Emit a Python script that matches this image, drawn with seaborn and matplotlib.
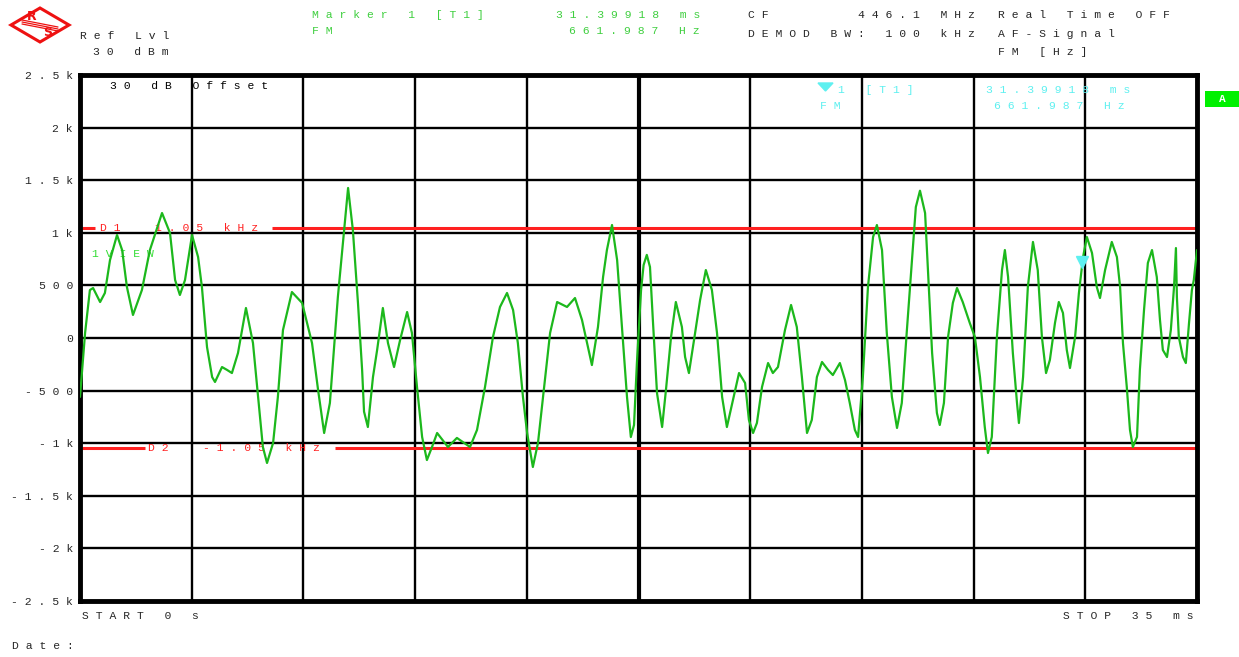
import matplotlib
matplotlib.use("Agg")
import matplotlib.pyplot as plt
import matplotlib.patches as mpatches
import seaborn as sns
import pandas as pd

# ---------------- data ----------------
time_ms = [0.00, 0.16, 0.31, 0.41, 0.63, 0.78, 0.94, 1.16, 1.32, 1.47, 1.66, 1.94, 2.19, 2.57, 2.82,
           2.98, 3.13, 3.29, 3.51, 3.70, 3.82, 3.98, 4.14, 4.23, 4.45, 4.61, 4.76, 4.95, 5.20, 5.42,
           5.58, 5.73, 5.86, 6.05, 6.20, 6.36, 6.64, 6.96, 7.27, 7.46, 7.65, 7.83, 8.08, 8.40, 8.55,
           8.71, 8.84, 8.90, 9.02, 9.18, 9.31, 9.49, 9.65, 9.84, 10.03, 10.25, 10.40, 10.56, 10.72,
           10.87, 11.03, 11.19, 11.53, 11.81, 12.22, 12.44, 12.69, 12.94, 13.16, 13.38, 13.57, 13.72,
           13.88, 14.01, 14.19, 14.35, 14.51, 14.73, 14.95, 15.26, 15.51, 15.73, 15.89, 16.04, 16.23,
           16.39, 16.51, 16.67, 16.83, 16.98, 17.14, 17.26, 17.36, 17.45, 17.58, 17.66, 17.76, 17.86,
           17.95, 18.08, 18.24, 18.36, 18.52, 18.67, 18.86, 18.96, 19.08, 19.24, 19.43, 19.61, 19.80,
           19.96, 20.12, 20.27, 20.46, 20.65, 20.84, 20.96, 21.09, 21.21, 21.37, 21.56, 21.71, 21.87,
           22.09, 22.28, 22.46, 22.62, 22.78, 22.93, 23.09, 23.25, 23.44, 23.59, 23.81, 23.97, 24.12,
           24.28, 24.38, 24.53, 24.69, 24.85, 24.97, 25.13, 25.28, 25.44, 25.60, 25.75, 25.91, 26.07,
           26.19, 26.32, 26.48, 26.57, 26.70, 26.85, 26.94, 27.07, 27.20, 27.35, 27.48, 27.66, 27.88,
           28.04, 28.20, 28.35, 28.45, 28.57, 28.73, 28.89, 28.98, 29.08, 29.23, 29.36, 29.42, 29.55,
           29.70, 29.86, 30.01, 30.14, 30.27, 30.39, 30.55, 30.67, 30.80, 30.92, 31.02, 31.18, 31.30,
           31.43, 31.55, 31.71, 31.86, 31.96, 32.12, 32.33, 32.49, 32.59, 32.68, 32.80, 32.90, 32.99,
           33.12, 33.21, 33.34, 33.46, 33.59, 33.74, 33.84, 33.93, 34.06, 34.18, 34.28, 34.34, 34.37,
           34.43, 34.56, 34.65, 34.75, 34.84, 34.90, 35.00]
fm_hz = [-560, 50, 456, 475, 342, 428, 741, 979, 836, 485, 219, 456, 836, 1188, 998,
         551, 409, 551, 979, 770, 485, -86, -371, -418, -276, -304, -333, -143, 285, -48,
         -561, -1036, -1188, -998, -561, 76, 437, 333, -48, -494, -903, -618, 390, 1426, 1027,
         333, -304, -700, -846, -371, -114, 285, -48, -276, -19, 247, 48, -466, -941,
         -1160, -1036, -903, -1036, -950, -1036, -874, -466, 10, 295, 428, 266, -48,
         -561, -903, -1226, -998, -561, 48, 342, 295, 380, 171, -48, -257, 105,
         580, 836, 1074, 741, 105, -561, -941, -827, -238, 456, 694, 790, 675,
         171, -523, -846, -494, 10, 342, 105, -181, -333, -19, 361, 646, 456,
         48, -561, -846, -589, -333, -428, -779, -903, -808, -466, -238, -333, -276,
         76, 314, 105, -371, -903, -779, -371, -228, -304, -352, -238, -399, -618,
         -874, -941, -371, 485, 960, 1074, 836, 48, -561, -855, -618, 76, 741,
         1245, 1400, 1188, 646, -143, -713, -827, -618, 10, 333, 475, 342, 143,
         10, -371, -846, -1093, -941, 10, 646, 836, 580, -143, -618, -808, -371,
         485, 913, 646, 10, -333, -209, 143, 342, 238, -114, -285, 10, 428,
         770, 960, 808, 485, 380, 646, 913, 770, 485, -48, -466, -874, -1036,
         -941, -304, 266, 713, 836, 580, 171, -114, -181, 76, 485, 855, 390,
         10, -181, -238, 143, 456, 551, 836]

y_ticks = [2500, 2000, 1500, 1000, 500, 0, -500, -1000, -1500, -2000, -2500]
y_tick_labels = ["2.5k", "2k", "1.5k", "1k", "500", "0", "-500", "-1k", "-1.5k", "-2k", "-2.5k"]
x_ticks = [0, 3.5, 7, 10.5, 14, 17.5, 21, 24.5, 28, 31.5, 35]
display_lines = {"D1": 1050, "D2": -1050}
marker_time_ms = 31.39918
marker_value_hz = 661.987

# ---------------- style ----------------
sns.set_style("white")
plt.rcParams["font.family"] = ["Liberation Mono", "DejaVu Sans Mono"]

W, H = 1239, 657
fig = plt.figure(figsize=(W / 100, H / 100), dpi=100)
fig.patch.set_facecolor("white")
ax = fig.add_axes([80 / W, 1 - 601 / H, 1117 / W, 526 / H])


def sp(s):
    return " ".join(s)


def fx(px):
    return px / W


def fy(py):
    return 1 - py / H


FS = 8.2
GREEN_TXT = "#3fcf3f"
CYAN = "#5ef0f0"
RED = "#ff2020"
TRACE = "#1cb81c"

df = pd.DataFrame({"t": time_ms, "v": fm_hz})

ax.set_xlim(0, 35)
ax.set_ylim(-2500, 2500)

# grid
for xt in x_ticks[1:-1]:
    ax.axvline(xt, color="black", lw=3.0 if xt == 17.5 else 1.7, zorder=1)
for yt in y_ticks[1:-1]:
    ax.axhline(yt, color="black", lw=1.7, zorder=1)

# display lines D1 / D2
ax.hlines(display_lines["D1"], 0.05, 0.47, color=RED, lw=2.2, zorder=2)
ax.hlines(display_lines["D1"], 6.02, 35, color=RED, lw=2.2, zorder=2)
ax.hlines(display_lines["D2"], 0.05, 2.04, color=RED, lw=2.2, zorder=2)
ax.hlines(display_lines["D2"], 7.99, 35, color=RED, lw=2.2, zorder=2)
ax.text(0.63, display_lines["D1"], sp("D1  1.05 kHz"), color=RED, fontsize=FS,
        va="center", ha="left", zorder=2)
ax.text(2.13, display_lines["D2"], sp("D2  -1.05 kHz"), color=RED, fontsize=FS,
        va="center", ha="left", zorder=2)

# trace
sns.lineplot(data=df, x="t", y="v", ax=ax, color=TRACE, lw=1.6, sort=False,
             estimator=None, zorder=3)

# marker
ax.plot([marker_time_ms], [marker_value_hz + 60], marker="v", color=CYAN, ms=9,
        mec=CYAN, zorder=4)

ax.text(0.38, 800, sp("1VIEW"), color="#33dd33", fontsize=FS, va="center", ha="left", zorder=2)
ax.text(0.95, 2400, sp("30 dB Offset"), color="black", fontsize=FS, va="center", ha="left")

ax.set_xticks(x_ticks)
ax.set_xticklabels([])
ax.set_yticks(y_ticks)
ax.set_yticklabels([sp(s) for s in y_tick_labels], fontsize=FS)
ax.tick_params(axis="both", length=0, pad=5)
ax.set_xlabel("")
ax.set_ylabel("")
for s in ax.spines.values():
    s.set_visible(True)
    s.set_color("black")
    s.set_linewidth(3.5)

# header texts
fig.text(fx(80), fy(36), sp("Ref Lvl"), fontsize=FS, va="center", ha="left")
fig.text(fx(93), fy(52), sp("30 dBm"), fontsize=FS, va="center", ha="left")
fig.text(fx(312), fy(15), sp("Marker 1 [T1]"), fontsize=FS, color=GREEN_TXT, va="center")
fig.text(fx(312), fy(31), sp("FM"), fontsize=FS, color=GREEN_TXT, va="center")
fig.text(fx(700), fy(15), sp("31.39918 ms"), fontsize=FS, color=GREEN_TXT, va="center", ha="right")
fig.text(fx(700), fy(31), sp("661.987 Hz"), fontsize=FS, color=GREEN_TXT, va="center", ha="right")
fig.text(fx(748), fy(15), sp("CF"), fontsize=FS, va="center")
fig.text(fx(975), fy(15), sp("446.1 MHz"), fontsize=FS, va="center", ha="right")
fig.text(fx(998), fy(15), sp("Real Time OFF"), fontsize=FS, va="center")
fig.text(fx(748), fy(34), sp("DEMOD BW: 100 kHz"), fontsize=FS, va="center")
fig.text(fx(998), fy(34), sp("AF-Signal"), fontsize=FS, va="center")
fig.text(fx(998), fy(52), sp("FM [Hz]"), fontsize=FS, va="center")

# cyan marker info in the diagram
fig.patches.append(mpatches.Polygon([[fx(818), fy(83)], [fx(833), fy(83)], [fx(825.5), fy(91)]],
                                    closed=True, color=CYAN, transform=fig.transFigure, zorder=5))
fig.text(fx(838), fy(90), sp("1 [T1]"), fontsize=FS, color=CYAN, va="center")
fig.text(fx(1130), fy(90), sp("31.39918 ms"), fontsize=FS, color=CYAN, va="center", ha="right")
fig.text(fx(820), fy(106), sp("FM"), fontsize=FS, color=CYAN, va="center")
fig.text(fx(1125), fy(106), sp("661.987 Hz"), fontsize=FS, color=CYAN, va="center", ha="right")

# green "A" box
fig.add_artist(mpatches.Rectangle((fx(1205), fy(107)), fx(1239) - fx(1205), fy(91) - fy(107),
                                  facecolor="#00f000", edgecolor="none",
                                  transform=fig.transFigure, zorder=5))
fig.add_artist(plt.Text(fx(1222), fy(99), "A", fontsize=8, color="white", fontweight="bold",
                        va="center", ha="center", transform=fig.transFigure, zorder=6))

# bottom texts
fig.text(fx(82), fy(616), sp("START 0 s"), fontsize=FS, va="center")
fig.text(fx(1194), fy(616), sp("STOP 35 ms"), fontsize=FS, va="center", ha="right")
fig.text(fx(12), fy(646), sp("Date:"), fontsize=FS, va="center")

# R&S logo
logo = mpatches.Polygon([[fx(11), fy(25)], [fx(40), fy(8)], [fx(69), fy(25)], [fx(40), fy(42)]],
                        closed=True, facecolor="white", edgecolor="#ee1111", lw=2.2,
                        transform=fig.transFigure, zorder=5)
fig.add_artist(logo)
for off in (-2, 0, 2):
    fig.add_artist(plt.Line2D([fx(22), fx(58)], [fy(22 + off), fy(29 + off)], color="#ee1111",
                              lw=0.9, transform=fig.transFigure, zorder=6))
fig.add_artist(plt.Text(fx(32), fy(17), "R", fontsize=9, color="#ee1111", fontweight="bold",
                        family="DejaVu Sans", va="center", ha="center",
                        transform=fig.transFigure, zorder=7))
fig.add_artist(plt.Text(fx(48), fy(33), "S", fontsize=9, color="#ee1111", fontweight="bold",
                        family="DejaVu Sans", va="center", ha="center",
                        transform=fig.transFigure, zorder=7))

fig.savefig("out.png", dpi=100, facecolor="white")
